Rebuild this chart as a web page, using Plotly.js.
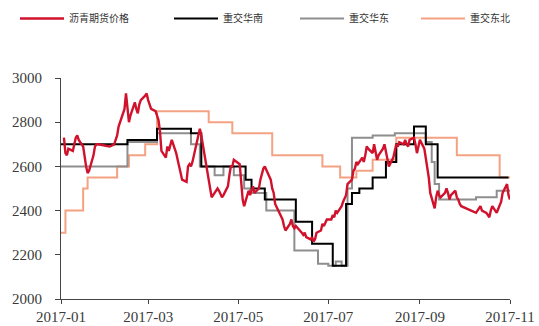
<!DOCTYPE html>
<html><head><meta charset="utf-8">
<script src="https://cdn.plot.ly/plotly-3.0.1.min.js"></script>
<style>html,body{margin:0;padding:0;background:#fff}#chart{width:539px;height:326px}</style>
</head><body><div id="chart"></div>
<script>
// 沥青期货价格 (red)
const futDates = ["2017-01-03","2017-01-04","2017-01-05","2017-01-06","2017-01-09","2017-01-10","2017-01-11","2017-01-12","2017-01-13","2017-01-16","2017-01-17","2017-01-18","2017-01-19","2017-01-20","2017-01-23","2017-01-24","2017-01-25","2017-01-26",
"2017-02-03","2017-02-06","2017-02-07","2017-02-08","2017-02-09","2017-02-10","2017-02-13","2017-02-14","2017-02-15","2017-02-16","2017-02-17","2017-02-20","2017-02-21","2017-02-22","2017-02-23","2017-02-24","2017-02-27","2017-02-28",
"2017-03-01","2017-03-02","2017-03-03","2017-03-06","2017-03-07","2017-03-08","2017-03-09","2017-03-10","2017-03-13","2017-03-14","2017-03-15","2017-03-16","2017-03-17","2017-03-20","2017-03-21","2017-03-22","2017-03-23","2017-03-24","2017-03-27","2017-03-28","2017-03-29","2017-03-30","2017-03-31",
"2017-04-05","2017-04-06","2017-04-07","2017-04-10","2017-04-11","2017-04-12","2017-04-13","2017-04-14","2017-04-17","2017-04-18","2017-04-19","2017-04-20","2017-04-21","2017-04-24","2017-04-25","2017-04-26","2017-04-27","2017-04-28",
"2017-05-02","2017-05-03","2017-05-04","2017-05-05","2017-05-08","2017-05-09","2017-05-10","2017-05-11","2017-05-12","2017-05-15","2017-05-16","2017-05-17","2017-05-18","2017-05-19","2017-05-22","2017-05-23","2017-05-24","2017-05-25","2017-05-26","2017-05-31",
"2017-06-01","2017-06-02","2017-06-05","2017-06-06","2017-06-07","2017-06-08","2017-06-09","2017-06-12","2017-06-13","2017-06-14","2017-06-15","2017-06-16","2017-06-19","2017-06-20","2017-06-21","2017-06-22","2017-06-23","2017-06-26","2017-06-27","2017-06-28","2017-06-29","2017-06-30",
"2017-07-03","2017-07-04","2017-07-05","2017-07-06","2017-07-07","2017-07-10","2017-07-11","2017-07-12","2017-07-13","2017-07-14","2017-07-17","2017-07-18","2017-07-19","2017-07-20","2017-07-21","2017-07-24","2017-07-25","2017-07-26","2017-07-27","2017-07-28","2017-07-31",
"2017-08-01","2017-08-02","2017-08-03","2017-08-04","2017-08-07","2017-08-08","2017-08-09","2017-08-10","2017-08-11","2017-08-14","2017-08-15","2017-08-16","2017-08-17","2017-08-18","2017-08-21","2017-08-22","2017-08-23","2017-08-24","2017-08-25","2017-08-28","2017-08-29","2017-08-30","2017-08-31",
"2017-09-01","2017-09-04","2017-09-05","2017-09-06","2017-09-07","2017-09-08","2017-09-11","2017-09-12","2017-09-13","2017-09-14","2017-09-15","2017-09-18","2017-09-19","2017-09-20","2017-09-21","2017-09-22","2017-09-25","2017-09-26","2017-09-27","2017-09-28","2017-09-29",
"2017-10-09","2017-10-10","2017-10-11","2017-10-12","2017-10-13","2017-10-16","2017-10-17","2017-10-18","2017-10-19","2017-10-20","2017-10-23","2017-10-24","2017-10-25","2017-10-26","2017-10-27","2017-10-30","2017-10-31","2017-11-01"];
const futValues = [2730,2660,2650,2680,2670,2700,2730,2740,2720,2690,2640,2600,2570,2580,2650,2690,2700,2700,
2690,2700,2720,2740,2780,2800,2860,2930,2870,2800,2830,2890,2860,2840,2880,2900,2920,2930,
2900,2880,2860,2850,2830,2810,2760,2670,2640,2690,2670,2700,2720,2660,2620,2600,2570,2540,2530,2600,2610,2600,2620,
2770,2740,2700,2580,2520,2480,2460,2470,2500,2490,2470,2460,2470,2510,2560,2600,2600,2630,
2610,2520,2450,2420,2490,2470,2490,2510,2480,2500,2540,2570,2590,2600,2560,2540,2500,2480,2430,2360,
2330,2310,2340,2360,2330,2320,2330,2310,2300,2290,2300,2280,2270,2280,2260,2270,2300,2310,2340,2330,2350,2360,
2360,2380,2370,2400,2390,2420,2440,2460,2470,2520,2540,2580,2590,2620,2610,2640,2620,2650,2690,2680,2660,
2700,2660,2630,2650,2680,2700,2660,2640,2600,2640,2680,2700,2690,2710,2700,2720,2700,2690,2720,2730,2700,2660,2690,
2720,2680,2640,2600,2550,2480,2410,2460,2490,2470,2460,2480,2500,2480,2450,2470,2490,2460,2450,2430,2420,
2390,2400,2410,2420,2400,2390,2380,2370,2400,2420,2390,2410,2420,2440,2480,2520,2470,2450];

// 重交华南 (black, step)
const southDates = ["2017-01-01","2017-02-15","2017-03-07","2017-03-30","2017-04-06","2017-05-06","2017-05-10","2017-05-19","2017-06-09","2017-06-20","2017-07-04","2017-07-13","2017-07-17","2017-07-22","2017-07-31","2017-08-09","2017-08-16","2017-08-28","2017-09-05","2017-09-13","2017-10-31"];
const southValues = [2700,2720,2770,2750,2600,2540,2500,2450,2350,2250,2150,2430,2480,2500,2550,2620,2700,2780,2700,2550,2550];

// 重交华东 (gray, step)
const eastDates = ["2017-01-01","2017-02-15","2017-03-07","2017-03-30","2017-04-05","2017-04-15","2017-04-21","2017-04-28","2017-05-05","2017-05-09","2017-05-20","2017-06-08","2017-06-24","2017-07-01","2017-07-06","2017-07-10","2017-07-14","2017-07-17","2017-07-31","2017-08-15","2017-09-05","2017-09-09","2017-09-11","2017-09-14","2017-10-09","2017-10-23","2017-11-01"];
const eastValues = [2600,2710,2750,2700,2600,2560,2600,2560,2500,2480,2400,2220,2160,2150,2170,2150,2500,2730,2740,2750,2710,2620,2520,2450,2460,2490,2490];

// 重交东北 (orange, step)
const northDates = ["2017-01-01","2017-01-04","2017-01-16","2017-01-19","2017-02-08","2017-02-16","2017-02-27","2017-03-07","2017-04-11","2017-04-27","2017-05-24","2017-06-27","2017-07-09","2017-07-20","2017-07-31","2017-08-16","2017-09-26","2017-10-25","2017-11-01"];
const northValues = [2300,2400,2500,2550,2600,2650,2700,2850,2800,2750,2650,2600,2550,2580,2630,2730,2650,2550,2550];

const seriesNames = ["沥青期货价格","重交华南","重交华东","重交东北"];
const yTicks = [2000,2200,2400,2600,2800,3000];
const xTicks = ["2017-01-01","2017-03-01","2017-05-01","2017-07-01","2017-09-01","2017-11-01"];
const xTickText = ["2017-01","2017-03","2017-05","2017-07","2017-09","2017-11"];

const traces = [
  {x: northDates, y: northValues, name: seriesNames[3], legend:'legend4', type:'scatter', mode:'lines', line:{color:'#F4A282', width:2, shape:'hv'}},
  {x: eastDates, y: eastValues, name: seriesNames[2], legend:'legend3', type:'scatter', mode:'lines', line:{color:'#8E8E8E', width:2, shape:'hv'}},
  {x: southDates, y: southValues, name: seriesNames[1], legend:'legend2', type:'scatter', mode:'lines', line:{color:'#000000', width:2, shape:'hv'}},
  {x: futDates, y: futValues, name: seriesNames[0], legend:'legend', type:'scatter', mode:'lines', line:{color:'#D0122C', width:2.4}}
];

const tickFont = {family:'"Liberation Serif","Times New Roman",serif', size:15, color:'#3a3a3a'};
const legFont = {family:'"Noto Sans CJK SC",sans-serif', size:10, color:'#333'};
function leg(px){ return {orientation:'h', x:px/539, xref:'container', y:1-4/326, yref:'container', yanchor:'top', xanchor:'left',
  font:legFont, itemwidth:44, bgcolor:'rgba(0,0,0,0)'}; }
const layout = {
  width:539, height:326,
  margin:{l:61, r:29, t:78, b:27},
  paper_bgcolor:'#fff', plot_bgcolor:'#fff',
  showlegend:true,
  legend:leg(15), legend2:leg(169), legend3:leg(295), legend4:leg(416),
  xaxis:{type:'date', range:['2017-01-01','2017-11-01'], tickvals:xTicks, ticktext:xTickText, showgrid:false, zeroline:false,
         showline:true, linecolor:'#444', linewidth:1, ticks:'outside', ticklen:4, tickcolor:'#444', tickfont:tickFont, ticklabelstandoff:0},
  yaxis:{range:[2000,3000], tickvals:yTicks, showgrid:false, zeroline:false, showline:true, linecolor:'#444', linewidth:1,
         ticks:'outside', ticklen:5, tickcolor:'#444', tickfont:tickFont, ticklabelstandoff:10}
};
Plotly.newPlot('chart', traces, layout, {displayModeBar:false, staticPlot:true});
</script></body></html>
